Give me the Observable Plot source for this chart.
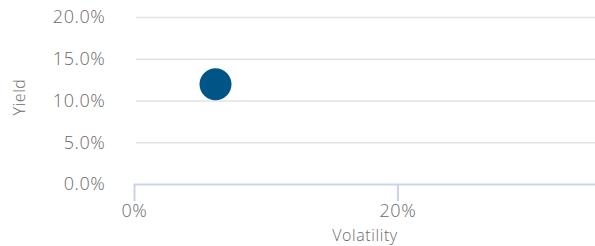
<!DOCTYPE html>
<html><head><meta charset="utf-8">
<script src="https://cdn.jsdelivr.net/npm/d3@7"></script>
<script src="https://cdn.jsdelivr.net/npm/@observablehq/plot@0.6"></script>
<style>
body{margin:0;background:#fff;}
svg{font-family:"Open Sans",Inter,sans-serif;font-weight:300;}
svg text{letter-spacing:0.6px;}
</style></head>
<body><div id="chart"></div>
<script>
const names = ["Portfolio"];
const volatility = [0.0615];
const yieldVals = [0.12];
const xTicks = [0, 0.2];
const yTicks = [0, 0.05, 0.10, 0.15, 0.20];

const data = names.map((n,i)=>({name:n, x:volatility[i], y:yieldVals[i]}));

const chart = Plot.plot({
  width:595, height:246,
  marginTop:17, marginBottom:62, marginLeft:134, marginRight:0,
  style:{fontSize:"18px", color:"#666", background:"#fff"},
  x:{domain:[0,0.35], ticks:xTicks, tickFormat:d3.format(".0%"), label:null},
  y:{domain:[0,0.2], ticks:yTicks, tickFormat:d3.format(".1%"), label:null},
  marks:[
    Plot.gridY(yTicks.filter(d=>d>0), {stroke:"#e2e2e2", strokeOpacity:1, strokeWidth:1.5, x1:0.0015}),
    Plot.ruleY([0], {stroke:"#c9d4e8", strokeWidth:2}),
    Plot.axisX({ticks:xTicks, tickFormat:d3.format(".0%"), tickSize:17, tickPadding:3, stroke:"#c9d4e8", strokeWidth:2, fill:"#6a6a6a", label:null, fontSize:18}),
    Plot.axisY({ticks:yTicks, tickFormat:d3.format(".1%"), tickSize:0, tickPadding:29, fill:"#6a6a6a", label:null, fontSize:18}),
    Plot.text(["Volatility"], {frameAnchor:"bottom", dy:56, fill:"#6a6a6a", fontSize:16}),
    Plot.text(["Yield"], {frameAnchor:"left", textAnchor:"middle", dx:-115, dy:-4, rotate:-90, fill:"#6a6a6a", fontSize:16}),
    Plot.dot(data, {x:"x", y:"y", r:16, fill:"#005587", stroke:null})
  ]
});
document.getElementById("chart").appendChild(chart);
</script></body></html>
